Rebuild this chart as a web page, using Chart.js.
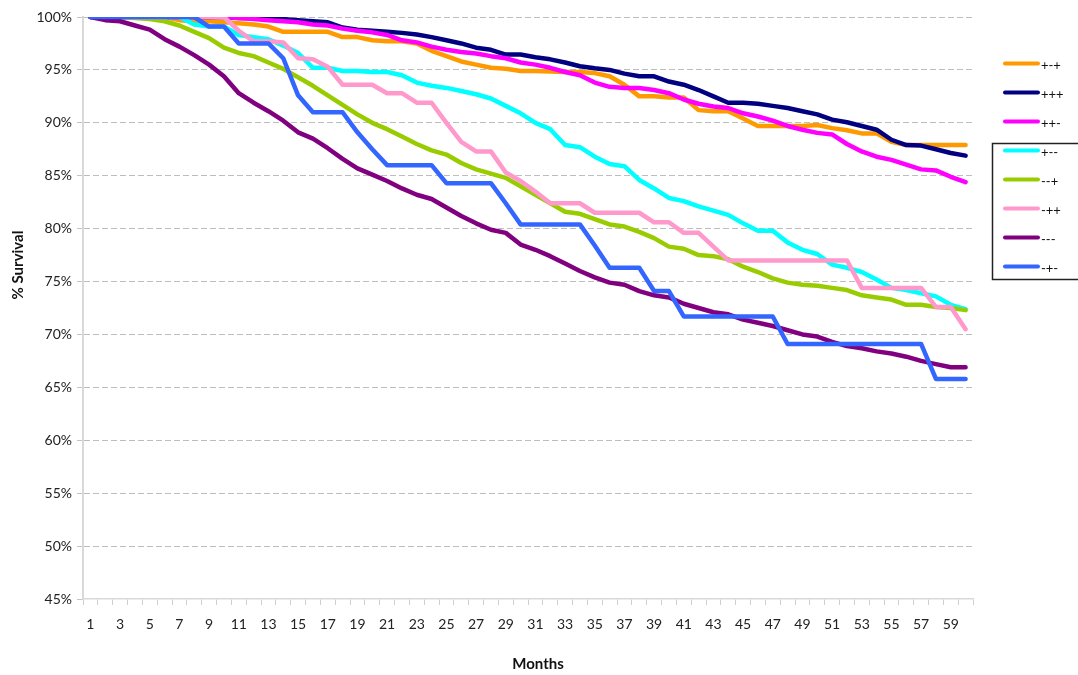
<!DOCTYPE html>
<html><head><meta charset="utf-8">
<script src="https://cdn.jsdelivr.net/npm/chart.js@4.4.0/dist/chart.umd.min.js"></script>
<style>html,body{margin:0;padding:0;background:#fff}#wrap{width:1078px;height:675px;position:relative}</style>
</head><body><div id="wrap"><canvas id="c" width="1078" height="675"></canvas></div>
<script>
const months = ["1","2","3","4","5","6","7","8","9","10","11","12","13","14","15","16","17","18","19","20",
"21","22","23","24","25","26","27","28","29","30","31","32","33","34","35","36","37","38","39","40",
"41","42","43","44","45","46","47","48","49","50","51","52","53","54","55","56","57","58","59","60"];
const yTicks = [45,50,55,60,65,70,75,80,85,90,95,100];

const seriesNames = ["+-+","+++","++-","+--","--+","-++","---","-+-"];
const seriesColors = ["#FF9900","#000080","#FF00FF","#00FFFF","#99CC00","#FF99CC","#800080","#3366FF"];

const s_pmp = [100,100,100,100,100,100,99.7,99.6,99.6,99.5,
99.4,99.3,99.1,98.6,98.6,98.6,98.6,98.1,98.1,97.8,
97.7,97.7,97.5,96.8,96.3,95.8,95.5,95.2,95.1,94.9,
94.9,94.85,94.8,94.8,94.7,94.4,93.6,92.5,92.5,92.4,
92.4,91.2,91.1,91.1,90.4,89.7,89.7,89.7,89.7,89.8,
89.5,89.3,89.0,89.0,88.2,87.9,87.9,87.9,87.9,87.9];
const s_ppp = [100,100,100,100,100,100,100,100,100,100,
99.9,99.9,99.8,99.8,99.7,99.6,99.5,99.0,98.8,98.7,
98.6,98.5,98.35,98.1,97.8,97.5,97.1,96.9,96.45,96.45,
96.2,96.0,95.7,95.35,95.15,95.0,94.65,94.4,94.4,93.9,
93.6,93.1,92.5,91.9,91.9,91.8,91.6,91.4,91.1,90.8,
90.3,90.05,89.7,89.35,88.4,87.9,87.85,87.5,87.15,86.9];
const s_ppm = [100,100,100,100,100,100,100,100,100,100,
99.9,99.8,99.7,99.6,99.5,99.3,99.2,98.9,98.7,98.55,
98.3,97.8,97.6,97.2,96.9,96.7,96.55,96.3,96.1,95.7,
95.5,95.2,94.8,94.5,93.8,93.4,93.3,93.3,93.1,92.8,
92.2,91.8,91.55,91.4,90.9,90.6,90.2,89.7,89.35,89.05,
88.9,88.0,87.3,86.8,86.5,86.05,85.6,85.5,84.9,84.4];
const s_pmm = [100,100,100,100,100,100,100,99.3,99.1,99.1,
98.3,98.1,97.9,97.3,96.6,95.2,95.2,94.9,94.9,94.8,
94.8,94.5,93.8,93.5,93.3,93.0,92.7,92.3,91.6,90.9,
90.0,89.4,87.9,87.7,86.8,86.1,85.9,84.6,83.8,82.9,
82.6,82.1,81.7,81.3,80.5,79.8,79.8,78.7,78.0,77.6,
76.6,76.3,75.9,75.2,74.4,74.2,73.9,73.6,72.8,72.4];
const s_mmp = [100,100,100,99.9,99.8,99.6,99.2,98.6,98.0,97.1,
96.6,96.3,95.7,95.1,94.3,93.5,92.6,91.7,90.8,90.0,
89.4,88.7,88.0,87.4,87.0,86.2,85.6,85.2,84.8,84.0,
83.2,82.4,81.6,81.4,80.9,80.4,80.2,79.7,79.1,78.3,
78.1,77.5,77.4,77.1,76.4,75.9,75.3,74.9,74.7,74.6,
74.4,74.2,73.7,73.5,73.3,72.8,72.8,72.6,72.5,72.3];
const s_mpp = [100,100,100,100,100,100,100,100,100,100,
98.7,97.7,97.7,97.6,96.1,96.0,95.3,93.6,93.6,93.6,
92.8,92.8,91.9,91.9,90.0,88.2,87.3,87.3,85.3,84.5,
83.5,82.4,82.4,82.4,81.5,81.5,81.5,81.5,80.6,80.6,
79.6,79.6,78.3,77.0,77.0,77.0,77.0,77.0,77.0,77.0,
77.0,77.0,74.4,74.4,74.4,74.4,74.4,72.6,72.6,70.5];
const s_mmm = [100,99.7,99.6,99.2,98.8,97.9,97.2,96.4,95.5,94.4,
92.8,91.9,91.1,90.2,89.1,88.5,87.6,86.6,85.7,85.1,
84.5,83.8,83.2,82.8,82.0,81.2,80.5,79.9,79.6,78.5,
78.0,77.4,76.7,76.0,75.4,74.9,74.7,74.1,73.7,73.5,
72.9,72.5,72.1,71.9,71.4,71.1,70.8,70.4,70.0,69.8,
69.3,68.9,68.7,68.4,68.2,67.9,67.5,67.2,66.9,66.9];
const s_mpm = [100,100,100,100,100,100,100,100,99.1,99.1,
97.5,97.5,97.5,96.1,92.6,91.0,91.0,91.0,89.1,87.5,
86.0,86.0,86.0,86.0,84.3,84.3,84.3,84.3,82.4,80.4,
80.4,80.4,80.4,80.4,78.4,76.3,76.3,76.3,74.1,74.1,
71.7,71.7,71.7,71.7,71.7,71.7,71.7,69.1,69.1,69.1,
69.1,69.1,69.1,69.1,69.1,69.1,69.1,65.8,65.8,65.8];
const seriesValues = [s_pmp,s_ppp,s_ppm,s_pmm,s_mmp,s_mpp,s_mmm,s_mpm];

const FONT = 'Lato, "Open Sans", sans-serif';

const legendPlugin = {
  id: 'customLegend',
  afterDraw(chart) {
    const c = chart.ctx;
    c.save();
    chart.data.datasets.forEach((ds, i) => {
      const y = 63.5 + i * 29;
      c.strokeStyle = ds.borderColor;
      c.lineWidth = 4;
      c.lineCap = 'round';
      c.beginPath(); c.moveTo(1005, y); c.lineTo(1038, y); c.stroke();
      c.fillStyle = '#111';
      c.font = '13px ' + FONT;
      c.textBaseline = 'middle';
      c.textAlign = 'left';
      c.fillText(ds.label, 1041, y + 2);
    });
    c.strokeStyle = '#222';
    c.lineWidth = 1.5;
    c.strokeRect(992.5, 143.5, 100, 136);
    c.restore();
  }
};

const titlePlugin = {
  id: 'axisTitles',
  afterDraw(chart) {
    const c = chart.ctx;
    c.save();
    c.fillStyle = '#111';
    c.font = 'bold 15px ' + FONT;
    c.textAlign = 'center';
    c.textBaseline = 'middle';
    c.fillText('Months', 538, 664);
    c.translate(18, 265);
    c.rotate(-Math.PI / 2);
    c.fillText('% Survival', 0, 0);
    c.restore();
  }
};

new Chart(document.getElementById('c'), {
  type: 'line',
  data: {
    labels: months,
    datasets: seriesValues.map((vals, i) => ({
      label: seriesNames[i],
      data: vals,
      borderColor: seriesColors[i],
      backgroundColor: seriesColors[i],
      borderWidth: 4.5,
      pointRadius: 0,
      pointHoverRadius: 0,
      tension: 0,
      fill: false,
      borderCapStyle: 'round',
      borderJoinStyle: 'round',
      order: seriesValues.length - 1 - i
    }))
  },
  options: {
    responsive: false,
    animation: false,
    devicePixelRatio: 1,
    layout: { padding: { left: 0, top: 17, right: 105, bottom: 0 } },
    plugins: { legend: { display: false }, tooltip: { enabled: false }, title: { display: false } },
    scales: {
      x: {
        type: 'category',
        offset: true,
        grid: { offset: true, drawOnChartArea: false, color: '#cfcfcf', tickLength: 6, lineWidth: 1 },
        border: { color: '#d9d9d9', width: 1.5 },
        ticks: {
          autoSkip: false, maxRotation: 0, minRotation: 0, padding: 11,
          color: '#222', font: { family: FONT, size: 14 },
          callback: (v, i) => (i % 2 === 0 ? months[i] : '')
        },
        afterFit: s => { s.height = 76; }
      },
      y: {
        min: 45, max: 100,
        afterBuildTicks: s => { s.ticks = yTicks.map(v => ({ value: v })); },
        ticks: { callback: v => v + '%', padding: 5, color: '#222', font: { family: FONT, size: 14 } },
        grid: {
          color: ctx => (ctx.tick && ctx.tick.value === 45 ? 'rgba(0,0,0,0)' : '#bdbdbd'),
          tickColor: '#c4c4c4', tickLength: 6, tickBorderDash: [], lineWidth: 1
        },
        border: { dash: [6, 3], color: '#d9d9d9', width: 2 },
        afterFit: s => { s.width = 83; }
      }
    }
  },
  plugins: [legendPlugin, titlePlugin]
});
</script>
</body></html>
